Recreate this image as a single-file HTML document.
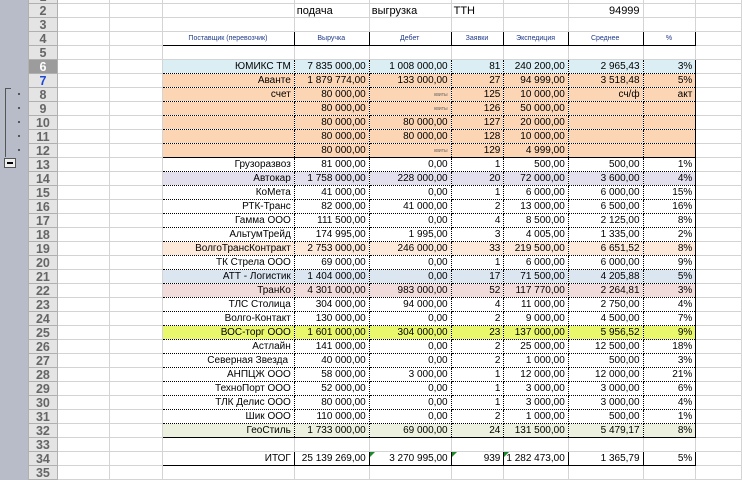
<!DOCTYPE html>
<html><head><meta charset="utf-8"><style>
body{margin:0;width:742px;height:480px;overflow:hidden;background:#fff;position:relative;font-family:"Liberation Sans","DejaVu Sans",sans-serif;}
#strip{position:absolute;left:0;top:0;width:28px;height:480px;background:#b8bcc8;}
table{position:absolute;left:28px;top:-11px;border-collapse:collapse;table-layout:fixed;}
tr{height:14px;}
td{height:14px;box-sizing:border-box;padding:0 3px 0 2px;font-size:10px;line-height:12px;white-space:nowrap;overflow:hidden;border:1px solid #d4d4d4;text-align:right;color:#000;}
td.h{background:#e4e4e4;border-color:#b0b0b0;text-align:center;font-weight:bold;font-size:12.5px;color:#666;padding:0;}
td.hs{background:#9c9c9c;color:#fff;}
td.hb{color:#1f49d0;}
td.t{text-align:left;font-size:11px;}
.hd td.b{border:1px solid #000;font-size:7px;text-align:center;color:#1f3a8a;}
.d td.x{border-top:1px dotted #000;border-bottom:1px dotted #000;border-right:1px dotted #000;border-left:1px dotted #000;}
.d td.c{border-left:1px solid #000;}
.d td.e{border-right:1px solid #000;}
.tp td.x{border-top:1px solid #000;}
.bt td.x{border-bottom:1px solid #000;}
.k{font-size:5px;color:#666;}
.b6 td.x{background:#daeef3}.pe td.x{background:#fcd5b4}.lv td.x{background:#e4dfec}
.p2 td.x{background:#fde9d9}.bl td.x{background:#dce6f1}.pk td.x{background:#f2dcdb}
.ye td.x{background:#e9f76c}.gr td.x{background:#ebf1de}
.tot td.x{border:1px solid #000;}
.tri{position:relative;}
.tri:before{content:"";position:absolute;left:0;top:0;border-top:5px solid #1e8a2e;border-right:5px solid transparent;}
#minus{position:absolute;left:4px;top:158px;width:12px;height:10px;border:1px solid #555;background:#eee;box-sizing:border-box;}
#minus:after{content:"";position:absolute;left:2px;top:3px;width:6px;height:2px;background:#000;}
#br{position:absolute;left:5px;top:88px;width:5px;height:68px;border-left:1px solid #555;border-top:1px solid #555;}
.dot{position:absolute;left:18px;width:2px;height:2px;background:#555;}
</style></head><body>
<div id="strip"></div>
<div id="br"></div>
<div class="dot" style="top:93px"></div><div class="dot" style="top:107px"></div><div class="dot" style="top:121px"></div><div class="dot" style="top:135px"></div><div class="dot" style="top:149px"></div>
<div id="minus"></div>
<table>
<colgroup><col style="width:29px"><col style="width:53px"><col style="width:53px"><col style="width:132px"><col style="width:75px"><col style="width:82px"><col style="width:53px"><col style="width:63px"><col style="width:75px"><col style="width:53px"><col style="width:46px"></colgroup>
<tr><td class="h">1</td><td></td><td></td><td></td><td></td><td></td><td></td><td></td><td></td><td></td><td></td></tr>
<tr><td class="h">2</td><td></td><td></td><td></td><td class="t">подача</td><td class="t">выгрузка</td><td class="t">ТТН</td><td></td><td style="font-size:11px">94999</td><td></td><td></td></tr>
<tr><td class="h">3</td><td></td><td></td><td></td><td></td><td></td><td></td><td></td><td></td><td></td><td></td></tr>
<tr class="hd"><td class="h">4</td><td></td><td></td><td class="b">Поставщик (перевозчик)</td><td class="b">Выручка</td><td class="b">Дебет</td><td class="b">Заявки</td><td class="b">Экспедиция</td><td class="b">Среднее</td><td class="b">%</td><td></td></tr>
<tr><td class="h">5</td><td></td><td></td><td></td><td></td><td></td><td></td><td></td><td></td><td></td><td></td></tr>
<tr class="d b6 tp"><td class="h hs">6</td><td></td><td></td><td class="x c">ЮМИКС ТМ</td><td class="x">7 835 000,00</td><td class="x">1 008 000,00</td><td class="x">81</td><td class="x">240 200,00</td><td class="x">2 965,43</td><td class="x e">3%</td><td></td></tr>
<tr class="d pe"><td class="h hb">7</td><td></td><td></td><td class="x c">Аванте</td><td class="x">1 879 774,00</td><td class="x">133 000,00</td><td class="x">27</td><td class="x">94 999,00</td><td class="x">3 518,48</td><td class="x e">5%</td><td></td></tr>
<tr class="d pe"><td class="h">8</td><td></td><td></td><td class="x c">счет</td><td class="x">80 000,00</td><td class="x"><span class="k">квиты</span></td><td class="x">125</td><td class="x">10 000,00</td><td class="x">сч/ф</td><td class="x e">акт</td><td></td></tr>
<tr class="d pe"><td class="h">9</td><td></td><td></td><td class="x c"></td><td class="x">80 000,00</td><td class="x"><span class="k">квиты</span></td><td class="x">126</td><td class="x">50 000,00</td><td class="x"></td><td class="x e"></td><td></td></tr>
<tr class="d pe"><td class="h">10</td><td></td><td></td><td class="x c"></td><td class="x">80 000,00</td><td class="x">80 000,00</td><td class="x">127</td><td class="x">20 000,00</td><td class="x"></td><td class="x e"></td><td></td></tr>
<tr class="d pe"><td class="h">11</td><td></td><td></td><td class="x c"></td><td class="x">80 000,00</td><td class="x">80 000,00</td><td class="x">128</td><td class="x">10 000,00</td><td class="x"></td><td class="x e"></td><td></td></tr>
<tr class="d pe"><td class="h">12</td><td></td><td></td><td class="x c"></td><td class="x">80 000,00</td><td class="x"><span class="k">квиты</span></td><td class="x">129</td><td class="x">4 999,00</td><td class="x"></td><td class="x e"></td><td></td></tr>
<tr class="d tp"><td class="h">13</td><td></td><td></td><td class="x c">Грузоразвоз</td><td class="x">81 000,00</td><td class="x">0,00</td><td class="x">1</td><td class="x">500,00</td><td class="x">500,00</td><td class="x e">1%</td><td></td></tr>
<tr class="d lv"><td class="h">14</td><td></td><td></td><td class="x c">Автокар</td><td class="x">1 758 000,00</td><td class="x">228 000,00</td><td class="x">20</td><td class="x">72 000,00</td><td class="x">3 600,00</td><td class="x e">4%</td><td></td></tr>
<tr class="d"><td class="h">15</td><td></td><td></td><td class="x c">КоМета</td><td class="x">41 000,00</td><td class="x">0,00</td><td class="x">1</td><td class="x">6 000,00</td><td class="x">6 000,00</td><td class="x e">15%</td><td></td></tr>
<tr class="d"><td class="h">16</td><td></td><td></td><td class="x c">РТК-Транс</td><td class="x">82 000,00</td><td class="x">41 000,00</td><td class="x">2</td><td class="x">13 000,00</td><td class="x">6 500,00</td><td class="x e">16%</td><td></td></tr>
<tr class="d"><td class="h">17</td><td></td><td></td><td class="x c">Гамма ООО</td><td class="x">111 500,00</td><td class="x">0,00</td><td class="x">4</td><td class="x">8 500,00</td><td class="x">2 125,00</td><td class="x e">8%</td><td></td></tr>
<tr class="d"><td class="h">18</td><td></td><td></td><td class="x c">АльтумТрейд</td><td class="x">174 995,00</td><td class="x">1 995,00</td><td class="x">3</td><td class="x">4 005,00</td><td class="x">1 335,00</td><td class="x e">2%</td><td></td></tr>
<tr class="d p2"><td class="h">19</td><td></td><td></td><td class="x c">ВолгоТрансКонтракт</td><td class="x">2 753 000,00</td><td class="x">246 000,00</td><td class="x">33</td><td class="x">219 500,00</td><td class="x">6 651,52</td><td class="x e">8%</td><td></td></tr>
<tr class="d"><td class="h">20</td><td></td><td></td><td class="x c">ТК Стрела ООО</td><td class="x">69 000,00</td><td class="x">0,00</td><td class="x">1</td><td class="x">6 000,00</td><td class="x">6 000,00</td><td class="x e">9%</td><td></td></tr>
<tr class="d bl"><td class="h">21</td><td></td><td></td><td class="x c">АТТ - Логистик</td><td class="x">1 404 000,00</td><td class="x">0,00</td><td class="x">17</td><td class="x">71 500,00</td><td class="x">4 205,88</td><td class="x e">5%</td><td></td></tr>
<tr class="d pk"><td class="h">22</td><td></td><td></td><td class="x c">ТранКо</td><td class="x">4 301 000,00</td><td class="x">983 000,00</td><td class="x">52</td><td class="x">117 770,00</td><td class="x">2 264,81</td><td class="x e">3%</td><td></td></tr>
<tr class="d"><td class="h">23</td><td></td><td></td><td class="x c">ТЛС Столица</td><td class="x">304 000,00</td><td class="x">94 000,00</td><td class="x">4</td><td class="x">11 000,00</td><td class="x">2 750,00</td><td class="x e">4%</td><td></td></tr>
<tr class="d"><td class="h">24</td><td></td><td></td><td class="x c">Волго-Контакт</td><td class="x">130 000,00</td><td class="x">0,00</td><td class="x">2</td><td class="x">9 000,00</td><td class="x">4 500,00</td><td class="x e">7%</td><td></td></tr>
<tr class="d ye"><td class="h">25</td><td></td><td></td><td class="x c">ВОС-торг ООО</td><td class="x">1 601 000,00</td><td class="x">304 000,00</td><td class="x">23</td><td class="x">137 000,00</td><td class="x">5 956,52</td><td class="x e">9%</td><td></td></tr>
<tr class="d"><td class="h">26</td><td></td><td></td><td class="x c">Астлайн</td><td class="x">141 000,00</td><td class="x">0,00</td><td class="x">2</td><td class="x">25 000,00</td><td class="x">12 500,00</td><td class="x e">18%</td><td></td></tr>
<tr class="d"><td class="h">27</td><td></td><td></td><td class="x c">Северная Звезда&nbsp;</td><td class="x">40 000,00</td><td class="x">0,00</td><td class="x">2</td><td class="x">1 000,00</td><td class="x">500,00</td><td class="x e">3%</td><td></td></tr>
<tr class="d"><td class="h">28</td><td></td><td></td><td class="x c">АНПЦЖ ООО</td><td class="x">58 000,00</td><td class="x">3 000,00</td><td class="x">1</td><td class="x">12 000,00</td><td class="x">12 000,00</td><td class="x e">21%</td><td></td></tr>
<tr class="d"><td class="h">29</td><td></td><td></td><td class="x c">ТехноПорт ООО</td><td class="x">52 000,00</td><td class="x">0,00</td><td class="x">1</td><td class="x">3 000,00</td><td class="x">3 000,00</td><td class="x e">6%</td><td></td></tr>
<tr class="d"><td class="h">30</td><td></td><td></td><td class="x c">ТЛК Делис ООО</td><td class="x">80 000,00</td><td class="x">0,00</td><td class="x">1</td><td class="x">3 000,00</td><td class="x">3 000,00</td><td class="x e">4%</td><td></td></tr>
<tr class="d"><td class="h">31</td><td></td><td></td><td class="x c">Шик ООО</td><td class="x">110 000,00</td><td class="x">0,00</td><td class="x">2</td><td class="x">1 000,00</td><td class="x">500,00</td><td class="x e">1%</td><td></td></tr>
<tr class="d gr bt"><td class="h">32</td><td></td><td></td><td class="x c">ГеоСтиль</td><td class="x">1 733 000,00</td><td class="x">69 000,00</td><td class="x">24</td><td class="x">131 500,00</td><td class="x">5 479,17</td><td class="x e">8%</td><td></td></tr>
<tr><td class="h">33</td><td></td><td></td><td></td><td></td><td></td><td></td><td></td><td></td><td></td><td></td></tr>
<tr class="d tot"><td class="h">34</td><td></td><td></td><td class="x">ИТОГ</td><td class="x">25 139 269,00</td><td class="x tri">3 270 995,00</td><td class="x tri">939</td><td class="x tri">1 282 473,00</td><td class="x">1 365,79</td><td class="x">5%</td><td></td></tr>
<tr><td class="h">35</td><td></td><td></td><td></td><td></td><td></td><td></td><td></td><td></td><td></td><td></td></tr>
</table>
</body></html>
